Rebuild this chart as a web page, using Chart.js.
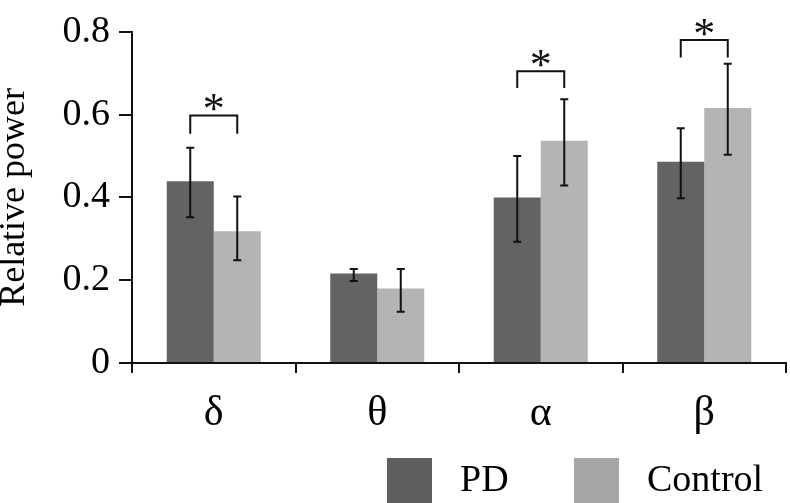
<!DOCTYPE html>
<html>
<head>
<meta charset="utf-8">
<script src="https://cdn.jsdelivr.net/npm/chart.js@4/dist/chart.umd.min.js"></script>
<style>
  body { margin: 0; background: #fff; }
  #wrap { width: 790px; height: 503px; position: relative; }
</style>
</head>
<body>
<div id="wrap"><canvas id="barChart"></canvas></div>
<script>
// band labels
const categories = ['δ', 'θ', 'α', 'β'];

// PD group: mean and error bar ends
const pdMean = [0.439, 0.216, 0.400, 0.486];
const pdLow  = [0.352, 0.198, 0.293, 0.398];
const pdHigh = [0.520, 0.227, 0.500, 0.567];

// Control group
const ctrlMean = [0.318, 0.180, 0.537, 0.616];
const ctrlLow  = [0.248, 0.124, 0.429, 0.503];
const ctrlHigh = [0.402, 0.227, 0.637, 0.723];

// significance brackets (category index, bracket top, leg bottom)
const sigIndex  = [0, 2, 3];
const sigTop    = [0.598, 0.705, 0.780];
const sigBottom = [0.554, 0.664, 0.738];

const yTicks = [0, 0.2, 0.4, 0.6, 0.8];

const serif = "'Liberation Serif', 'DejaVu Serif', serif";

const errorBars = {
  id: 'errorBars',
  afterDatasetsDraw(chart) {
    const ctx = chart.ctx;
    const y = chart.scales.y;
    const lows = [pdLow, ctrlLow];
    const highs = [pdHigh, ctrlHigh];
    ctx.save();
    ctx.strokeStyle = '#111';
    ctx.lineWidth = 2;
    chart.data.datasets.forEach((ds, i) => {
      chart.getDatasetMeta(i).data.forEach((bar, j) => {
        const x = bar.x;
        const y1 = y.getPixelForValue(lows[i][j]);
        const y2 = y.getPixelForValue(highs[i][j]);
        ctx.beginPath();
        ctx.moveTo(x, y1); ctx.lineTo(x, y2);
        ctx.moveTo(x - 4, y1); ctx.lineTo(x + 4, y1);
        ctx.moveTo(x - 4, y2); ctx.lineTo(x + 4, y2);
        ctx.stroke();
      });
    });
    // brackets with stars
    sigIndex.forEach((c, k) => {
      const xa = chart.getDatasetMeta(0).data[c].x;
      const xb = chart.getDatasetMeta(1).data[c].x;
      const yt = y.getPixelForValue(sigTop[k]);
      const yb = y.getPixelForValue(sigBottom[k]);
      ctx.beginPath();
      ctx.moveTo(xa, yb); ctx.lineTo(xa, yt); ctx.lineTo(xb, yt); ctx.lineTo(xb, yb);
      ctx.stroke();
      ctx.fillStyle = '#111';
      ctx.font = '44px ' + serif;
      ctx.textAlign = 'center';
      ctx.textBaseline = 'alphabetic';
      ctx.fillText('*', (xa + xb) / 2, yt + 8);
    });
    ctx.restore();
  }
};

const bottomLegend = {
  id: 'bottomLegend',
  afterDraw(chart) {
    const ctx = chart.ctx;
    const items = [
      { x: 387, textX: 460 },
      { x: 574, textX: 647 }
    ];
    ctx.save();
    ctx.font = '38px ' + serif;
    ctx.textAlign = 'left';
    ctx.textBaseline = 'middle';
    chart.data.datasets.forEach((ds, i) => {
      ctx.fillStyle = i === 0 ? '#5f5f5f' : '#a6a6a6';
      ctx.fillRect(items[i].x, 458, 45, 45);
      ctx.fillStyle = '#000';
      ctx.fillText(ds.label, items[i].textX, 481);
    });
    ctx.restore();
  }
};

new Chart(document.querySelector('#barChart'), {
  type: 'bar',
  data: {
    labels: categories,
    datasets: [
      { label: 'PD', data: pdMean, backgroundColor: '#636363' },
      { label: 'Control', data: ctrlMean, backgroundColor: '#b4b4b4' }
    ]
  },
  options: {
    responsive: true,
    maintainAspectRatio: false,
    animation: false,
    categoryPercentage: 0.575,
    barPercentage: 1,
    layout: { padding: { top: 29, right: 4, left: 0, bottom: 0 } },
    plugins: {
      legend: { display: false },
      tooltip: { enabled: false }
    },
    scales: {
      x: {
        afterFit: (s) => { s.height = 140; },
        border: { display: true, color: '#111', width: 2 },
        grid: { offset: true, drawOnChartArea: false, drawTicks: true, tickLength: 10, color: '#111', lineWidth: 2 },
        ticks: { color: '#000', font: { family: serif, size: 42 }, padding: 16 }
      },
      y: {
        min: 0,
        max: 0.8,
        afterFit: (s) => { s.width = 132; },
        afterBuildTicks: (s) => { s.ticks = yTicks.map(v => ({ value: v })); },
        border: { display: true, color: '#111', width: 2 },
        grid: { drawOnChartArea: false, drawTicks: true, tickLength: 13, color: '#111', lineWidth: 2 },
        ticks: { color: '#000', font: { family: serif, size: 38 }, padding: 9 },
        title: {
          display: true,
          text: 'Relative power',
          color: '#000',
          font: { family: serif, size: 36, lineHeight: 0.8 },
          padding: 0
        }
      }
    }
  },
  plugins: [errorBars, bottomLegend]
});
</script>
</body>
</html>
